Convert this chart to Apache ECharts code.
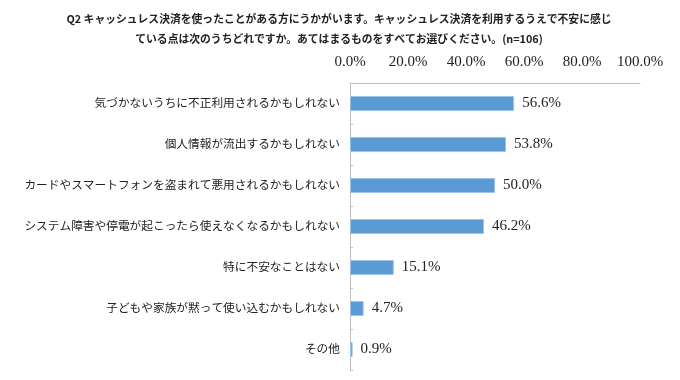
<!DOCTYPE html>
<html><head><meta charset="utf-8">
<script src="https://cdn.jsdelivr.net/npm/echarts@6/dist/echarts.min.js"></script>
<style>html,body{margin:0;padding:0;background:#fff}#c{width:680px;height:380px}</style>
</head><body><div id="c"></div>
<script>
const titleLines = [
  "Q2 キャッシュレス決済を使ったことがある方にうかがいます。キャッシュレス決済を利用するうえで不安に感じ",
  "ている点は次のうちどれですか。あてはまるものをすべてお選びください。(n=106)"
];
const categories = [
  "気づかないうちに不正利用されるかもしれない",
  "個人情報が流出するかもしれない",
  "カードやスマートフォンを盗まれて悪用されるかもしれない",
  "システム障害や停電が起こったら使えなくなるかもしれない",
  "特に不安なことはない",
  "子どもや家族が黙って使い込むかもしれない",
  "その他"
];
const values = [56.6, 53.8, 50.0, 46.2, 15.1, 4.7, 0.9];
const tickValues = [0, 20, 40, 60, 80, 100];

const serif = '"Liberation Serif", "DejaVu Serif", "Noto Sans CJK JP", serif';
const chart = echarts.init(document.getElementById('c'));
chart.setOption({
  backgroundColor: '#fff',
  animation: false,
  title: {
    text: titleLines.join('\n'),
    left: 334, top: 4, textAlign: 'center',
    textStyle: { fontSize: 10.8, fontWeight: 'bold', color: '#222', lineHeight: 20,
      fontFamily: '"Noto Sans CJK JP", sans-serif' }
  },
  grid: { left: 350, right: 40, top: 83, bottom: 10, containLabel: false },
  xAxis: {
    type: 'value', position: 'top', min: 0, max: 100, interval: 20,
    axisLine: { show: true, lineStyle: { color: '#bfbfbf' } },
    axisTick: { show: false },
    splitLine: { show: false },
    axisLabel: { margin: 13, fontSize: 15, color: '#222', fontFamily: serif,
      formatter: v => tickValues.includes(v) ? v.toFixed(1) + '%' : '' }
  },
  yAxis: {
    type: 'category', data: categories, inverse: true,
    axisLine: { show: true, lineStyle: { color: '#bfbfbf' } },
    axisTick: { show: true, inside: true, length: 3, lineStyle: { color: '#bfbfbf' } },
    axisLabel: { margin: 10, fontSize: 11.7, color: '#222', fontFamily: serif }
  },
  series: [{
    type: 'bar', data: values, barWidth: 15,
    itemStyle: { color: '#5b9bd5', borderColor: '#9dc3e6', borderWidth: 1 },
    label: { show: true, position: 'right', distance: 8, fontSize: 15, color: '#222',
      fontFamily: serif, formatter: p => p.value.toFixed(1) + '%' }
  }]
});
</script></body></html>
